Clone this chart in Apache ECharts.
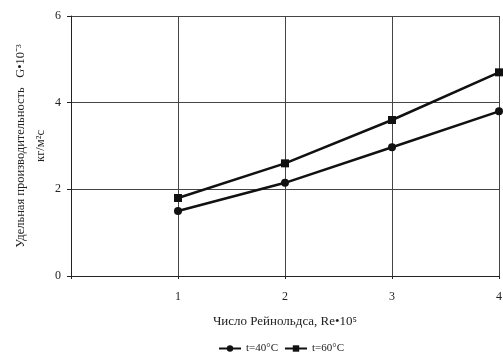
<!DOCTYPE html>
<html>
<head>
<meta charset="utf-8">
<script src="https://cdn.jsdelivr.net/npm/echarts@6/dist/echarts.min.js"></script>
<style>
  html, body { margin: 0; padding: 0; background: #fff; }
  #chart { width: 503px; height: 361px; }
</style>
</head>
<body>
<div id="chart"></div>
<script>
// число Рейнольдса, Re*10^5
const reynolds = [1, 2, 3, 4]
// t = 40 °C
const t40 = [1.5, 2.15, 2.97, 3.8]
// t = 60 °C
const t60 = [1.8, 2.6, 3.6, 4.7]
const seriesNames = ['t=40°C', 't=60°C']

const chart = echarts.init(document.getElementById('chart'))

const font = 'Liberation Serif'
const lineColor = '#111'

const makeSeries = (name, values, symbol) => ({
  name,
  type: 'line',
  data: reynolds.map((x, i) => [x, values[i]]),
  symbol,
  symbolSize: 8,
  showSymbol: true,
  lineStyle: { color: lineColor, width: 2.5 },
  itemStyle: { color: lineColor },
  animation: false,
})

chart.setOption({
  grid: { left: 71, right: 4, top: 16, bottom: 85, containLabel: false, outerBoundsMode: 'none' },
  xAxis: {
    type: 'value',
    min: 0,
    max: 4,
    interval: 1,
    name: 'Число Рейнольдса, Re•10⁵',
    nameLocation: 'middle',
    nameGap: 39,
    nameTextStyle: { fontFamily: font, fontSize: 13, color: '#222' },
    axisLine: { show: true, lineStyle: { color: '#222' } },
    axisTick: { show: true, length: 3, lineStyle: { color: '#222' } },
    axisLabel: {
      fontFamily: font,
      fontSize: 12,
      color: '#222',
      margin: 15,
      formatter: (v) => (v === 0 ? '' : v),
    },
    splitLine: { show: true, lineStyle: { color: '#444', width: 1 } },
  },
  yAxis: {
    type: 'value',
    min: 0,
    max: 6,
    interval: 2,
    name: 'Удельная производительность   G•10⁻³\nкг/м²с',
    nameLocation: 'middle',
    nameGap: 20,
    nameMoveOverlap: false,
    nameTextStyle: { fontFamily: font, fontSize: 12.5, color: '#222', lineHeight: 20 },
    axisLine: { show: true, lineStyle: { color: '#222' } },
    axisTick: { show: true, length: 4, lineStyle: { color: '#222' } },
    axisLabel: { fontFamily: font, fontSize: 12, color: '#222', margin: 10 },
    splitLine: { show: true, lineStyle: { color: '#444', width: 1 } },
  },
  legend: {
    bottom: 2,
    left: 213,
    itemWidth: 22,
    itemHeight: 8,
    itemGap: 6,
    textStyle: { fontFamily: font, fontSize: 11, color: '#222' },
    data: seriesNames,
  },
  series: [
    makeSeries(seriesNames[0], t40, 'circle'),
    makeSeries(seriesNames[1], t60, 'rect'),
  ],
})
</script>
</body>
</html>
